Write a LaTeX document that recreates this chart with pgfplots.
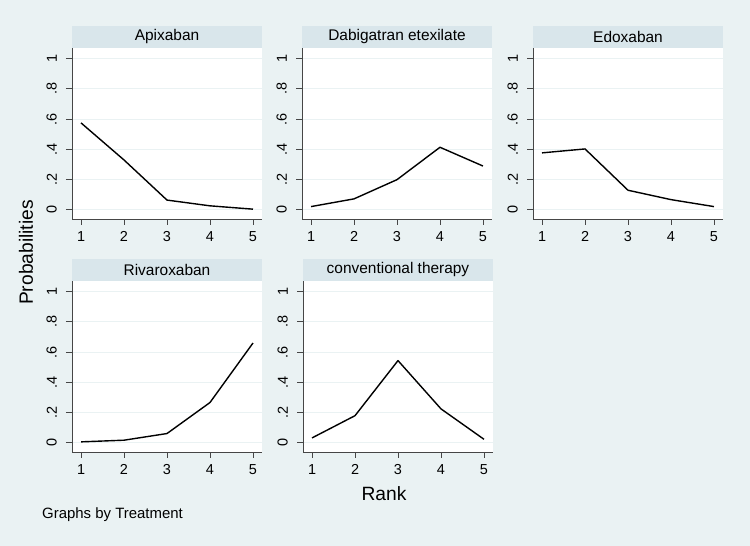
\documentclass[border=0pt]{standalone}
\usepackage{fontspec}
\setmainfont{Liberation Sans}
\usepackage{pgfplots}
\pgfplotsset{compat=1.18}
\definecolor{bgcol}{RGB}{234,242,243}
\definecolor{stripcol}{RGB}{217,230,235}
\definecolor{gridcol}{RGB}{234,242,243}
\definecolor{axcol}{RGB}{70,70,70}
\pgfplotsset{panelstyle/.style={
  width=190bp, height=171bp, scale only axis,
  xmin=0.79, xmax=5.21, ymin=-0.06, ymax=1.07,
  axis x line*=bottom, axis y line*=left,
  axis line style={draw=axcol, line width=0.9bp, -},
  xtick={1,2,3,4,5},
  ytick={0,0.2,0.4,0.6,0.8,1},
  yticklabels={0,.2,.4,.6,.8,1},
  tick align=outside, major tick length=6bp,
  tick style={draw=axcol, line width=0.9bp},
  ymajorgrids, grid style={draw=gridcol, line width=1bp},
  axis background/.style={fill=white},
  clip=false,
  tick label style={font=\fontsize{14.5}{16}\selectfont},
  xticklabel style={anchor=north, inner ysep=6.5bp},
  yticklabel style={rotate=90, anchor=south, inner ysep=9bp},
  /pgf/number format/assume math mode=true,
}}
\tikzset{strip/.style={fill=stripcol, minimum width=190bp, minimum height=22bp,
  inner sep=0pt, outer sep=0pt, anchor=south, font=\fontsize{15.5}{18}\selectfont},
  dline/.style={black, line width=1.4bp, line join=round}}
\newcommand{\panel}[4]{%
\begin{axis}[at={(#1bp,#2bp)}, anchor=south west, panelstyle]
\addplot[dline] coordinates {#4};
\node[strip] at (rel axis cs:0.5,1) {#3};
\end{axis}}
\begin{document}
\begin{tikzpicture}
\useasboundingbox (0,0) rectangle (750bp,546bp);
\fill[bgcol] (0,0) rectangle (750bp,546bp);
\panel{72}{327}{Apixaban}{(1,0.575) (2,0.33) (3,0.065) (4,0.027) (5,0.005)}
\panel{302}{327}{Dabigatran etexilate}{(1,0.022) (2,0.073) (3,0.20) (4,0.414) (5,0.29)}
\panel{533}{327}{Edoxaban}{(1,0.377) (2,0.403) (3,0.13) (4,0.068) (5,0.022)}
\panel{72}{94}{Rivaroxaban}{(1,0.007) (2,0.018) (3,0.062) (4,0.267) (5,0.66)}
\panel{303}{94}{conventional therapy}{(1,0.033) (2,0.18) (3,0.544) (4,0.225) (5,0.024)}
\node[rotate=90, font=\fontsize{19.3}{22}\selectfont] at (26bp,293.5bp) {Probabilities};
\node[font=\fontsize{19.3}{22}\selectfont] at (384bp,52bp) {Rank};
\node[anchor=west, inner sep=0pt, font=\fontsize{15}{18}\selectfont] at (42bp,31bp) {Graphs by Treatment};
\end{tikzpicture}
\end{document}
